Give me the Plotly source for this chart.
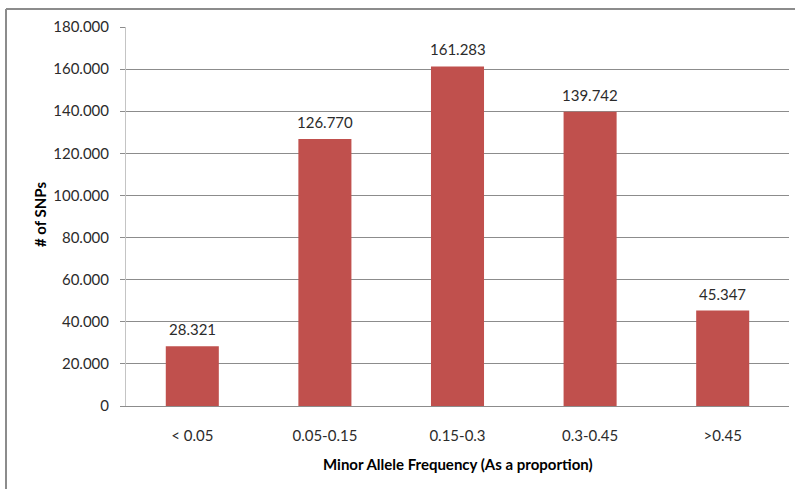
import plotly.graph_objects as go

categories = ["< 0.05", "0.05-0.15", "0.15-0.3", "0.3-0.45", ">0.45"]
snp_counts = [28321, 126770, 161283, 139742, 45347]
y_ticks = [0, 20000, 40000, 60000, 80000, 100000, 120000, 140000, 160000, 180000]

FONT = "Lato"
TXT = "#2b2b2b"
FS = 15

fig = go.Figure()
fig.add_trace(go.Bar(
    x=categories, y=snp_counts,
    marker=dict(color="#C0504D", line=dict(width=0)),
    cliponaxis=False,
))

for c, v in zip(categories, snp_counts):
    fig.add_annotation(x=c, y=v, text=f"{v:,}".replace(",", "."), showarrow=False,
                       yanchor="middle", xanchor="center", yshift=17,
                       font=dict(family=FONT, size=FS, color=TXT))

fig.update_layout(
    width=795, height=489,
    margin=dict(l=126, r=6, t=27, b=83),
    paper_bgcolor="white", plot_bgcolor="white",
    separators=",.",
    bargap=0.6,
    showlegend=False,
    font=dict(family=FONT, size=FS, color=TXT),
)
fig.update_yaxes(
    range=[0, 180000], tickvals=y_ticks, tickformat=",.0f",
    showgrid=True, gridcolor="#8c8c8c", gridwidth=1,
    showline=True, linecolor="#c4c4c4", linewidth=1,
    ticks="outside", ticklen=5, tickcolor="#8c8c8c",
    ticklabelstandoff=8, zeroline=False,
    tickfont=dict(family=FONT, size=FS, color=TXT),
)
fig.update_xaxes(
    showline=True, linecolor="#8c8c8c", linewidth=1,
    ticks="", ticklabelstandoff=16,
    tickfont=dict(family=FONT, size=FS, color=TXT),
)

fig.add_annotation(text="<b># of SNPs</b>", xref="paper", yref="paper",
                   x=-0.1297, y=0.504, textangle=-90, showarrow=False,
                   xanchor="center", yanchor="middle",
                   font=dict(family=FONT, size=FS, color="black"))
fig.add_annotation(text="<b>Minor Allele Frequency (As a proportion)</b>", xref="paper", yref="paper",
                   x=0.5, y=-0.153, showarrow=False, xanchor="center", yanchor="middle",
                   font=dict(family=FONT, size=FS, color="black"))

# outer chart border (left and top visible)
fig.add_shape(type="line", xref="paper", yref="paper",
              x0=-0.181, x1=-0.181, y0=1.0475, y1=-0.3, line=dict(color="#8c8c8c", width=2))
fig.add_shape(type="line", xref="paper", yref="paper",
              x0=-0.181, x1=1.1, y0=1.0475, y1=1.0475, line=dict(color="#8c8c8c", width=2))

fig.write_html("out.html")
